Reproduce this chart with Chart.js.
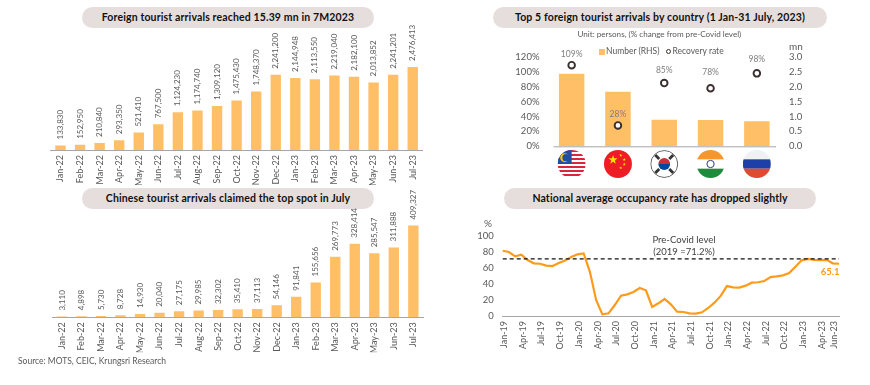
<!DOCTYPE html>
<html lang="en">
<head>
<meta charset="UTF-8">
<title>Thailand tourism</title>
<script src="https://cdn.jsdelivr.net/npm/chart.js"></script>
<style>
  html, body { margin: 0; padding: 0; background: #fff; }
  body { width: 870px; height: 385px; position: relative; overflow: hidden; font-family: Lato, sans-serif; }
  canvas { position: absolute; }
  .pill { position: absolute; height: 21px; line-height: 21px; border-radius: 11px; background: #e6dedc; color: #111;
          font-weight: 700; font-size: 10.5px; letter-spacing: .14px; text-align: center; white-space: nowrap; }
  .note { position: absolute; color: #595959; font-size: 8.5px; white-space: nowrap; line-height: 11px; z-index: 2; }
  .swatch { position: absolute; left: 599px; top: 49px; width: 5.5px; height: 5.5px; background: #ffbf66; z-index: 2; }
  .ring { position: absolute; left: 665.5px; top: 48.5px; width: 3.4px; height: 3.4px; border: 1.7px solid #3b2f2f; border-radius: 50%; background: #fff; z-index: 2; }
</style>
</head>
<body>
<div class="pill" style="left:82px;top:7px;width:292px">Foreign tourist arrivals reached 15.39 mn in 7M2023</div>
<div class="pill" style="left:82px;top:188px;width:292px">Chinese tourist arrivals claimed the top spot in July</div>
<div class="pill" style="left:493px;top:7px;width:334px">Top 5 foreign tourist arrivals by country (1 Jan-31 July, 2023)</div>
<div class="pill" style="left:504px;top:188px;width:312px">National average occupancy rate has dropped slightly</div>
<div class="note" style="left:577.5px;top:29px;font-size:8.1px">Unit: persons, (% change from pre-Covid level)</div>
<div class="swatch"></div>
<div class="note" style="left:606px;top:46px;font-size:8.5px">Number (RHS)</div>
<div class="ring"></div>
<div class="note" style="left:672.5px;top:46px;font-size:8.5px">Recovery rate</div>
<div class="note" style="left:789px;top:41px;font-size:10px">mn</div>
<div class="note" style="left:484px;top:218px;font-size:10px">%</div>
<div class="note" style="left:18px;top:356px">Source: MOTS, CEIC, Krungsri Research</div>
<div class="note" style="left:639px;top:234px;width:90px;text-align:center;font-size:9.5px;line-height:12px;color:#404040">Pre-Covid level<br>(2019 =71.2%)</div>
<canvas id="c1" style="left:0;top:0"></canvas>
<canvas id="c2" style="left:0;top:185px"></canvas>
<canvas id="c3" style="left:440px;top:30px"></canvas>
<canvas id="c4" style="left:440px;top:225px"></canvas>
<script>
var months = ['Jan-22','Feb-22','Mar-22','Apr-22','May-22','Jun-22','Jul-22','Aug-22','Sep-22','Oct-22','Nov-22','Dec-22','Jan-23','Feb-23','Mar-23','Apr-23','May-23','Jun-23','Jul-23'];
var foreignArrivals = [133830,152950,210840,293350,521410,767500,1124230,1174740,1309120,1475430,1748370,2241200,2144948,2113550,2219040,2182100,2013852,2241201,2476413];
var chineseArrivals = [3110,4898,5730,8728,14930,20040,27175,29985,32302,35410,37113,54146,91841,155656,269773,328414,285547,311888,409327];
var countries = ['Malaysia','China','South Korea','India','Russia'];
var countryNumber = [2.44,1.83,0.89,0.88,0.84];
var recoveryRate = [109,28,85,78,98];
var recoveryLabelGap = [11,11,13,16,14];
var occMonths = [];
var occYears = ['19','20','21','22','23'];
var occNames = ['Jan','Feb','Mar','Apr','May','Jun','Jul','Aug','Sep','Oct','Nov','Dec'];
occYears.forEach(function(y, i) {
  occNames.forEach(function(m, j) { if (i < 4 || j < 7) occMonths.push(m + '-' + y); });
});
var occShown = ['Jan-19','Apr-19','Jul-19','Oct-19','Jan-20','Apr-20','Jul-20','Oct-20','Jan-21','Apr-21','Jul-21','Oct-21','Jan-22','Apr-22','Jul-22','Oct-22','Jan-23','Apr-23','Jun-23'];
var occupancy = [81.3,79.7,74.3,76.3,69.7,65.6,65.1,62.7,62.2,66,69,73.4,76.8,78,55,20,2,3.3,13.7,25.3,27,30,34.9,32,11.2,15.8,21.2,14.5,5.4,5,3.3,2.9,4.6,10,16.6,25,37.3,35.7,35.3,37.8,41.5,42,43.6,48.5,49.4,50.6,53.5,61.4,69.3,71,70,69.7,70,65.6,65.1];
var preCovid = occMonths.map(function() { return 71.2; });

var FONT = 'Lato, sans-serif';
var BAR = '#ffbf66';
var TXT = '#595959';

function noOverhang(s) {
  s.paddingLeft = 0; s.paddingRight = 0; s.paddingTop = 0; s.paddingBottom = 0;
}

// rotated value labels above the monthly bars
var rotatedLabels = {
  id: 'rotatedLabels',
  afterDatasetsDraw: function(chart) {
    var ctx = chart.ctx;
    ctx.save();
    ctx.font = '8px ' + FONT;
    ctx.fillStyle = TXT;
    ctx.textAlign = 'left';
    ctx.textBaseline = 'middle';
    chart.getDatasetMeta(0).data.forEach(function(bar, i) {
      ctx.save();
      ctx.translate(bar.x, bar.y - 6);
      ctx.rotate(-Math.PI / 2);
      ctx.fillText(chart.data.datasets[0].data[i].toLocaleString('en-US'), 0, 0);
      ctx.restore();
    });
    ctx.restore();
  }
};

function monthlyChart(id, values, yMax, w, h, pad) {
  var el = document.getElementById(id);
  el.width = w; el.height = h;
  el.style.width = w + 'px'; el.style.height = h + 'px';
  return new Chart(el, {
    type: 'bar',
    data: { labels: months, datasets: [{ data: values, backgroundColor: BAR, barPercentage: 0.53, categoryPercentage: 1 }] },
    options: {
      responsive: false, animation: false,
      layout: { padding: pad },
      plugins: { legend: { display: false }, tooltip: { enabled: false } },
      scales: {
        y: { display: false, min: 0, max: yMax },
        x: {
          grid: { display: false, drawTicks: false },
          border: { color: '#a6a6a6', width: 1 },
          ticks: { color: TXT, font: { size: 9, family: FONT }, minRotation: 90, maxRotation: 90, autoSkip: false, padding: 5 },
          afterFit: function(s) { noOverhang(s); s.height = 35; }
        }
      }
    },
    plugins: [rotatedLabels]
  });
}

monthlyChart('c1', foreignArrivals, 3729000, 430, 185, { left: 50.7, right: 7.5, top: 25, bottom: 0 });
monthlyChart('c2', chineseArrivals, 537000, 430, 175, { left: 52.2, right: 6.9, top: 12, bottom: 7.7 });

function star(ctx, x, y, r) {
  ctx.beginPath();
  for (var i = 0; i < 10; i++) {
    var a = -Math.PI/2 + i * Math.PI/5, d = i % 2 ? r*0.4 : r;
    ctx.lineTo(x + d*Math.cos(a), y + d*Math.sin(a));
  }
  ctx.closePath(); ctx.fill();
}

// flags are only pictures of the category names
function flag(ctx, name, r) {
  var i;
  if (name === 'Malaysia') {
    ctx.fillStyle = '#fff'; ctx.fillRect(-r, -r, 2*r, 2*r);
    ctx.fillStyle = '#d9263a';
    for (i = 0; i < 7; i++) ctx.fillRect(-r, -r + i * 2 * r / 7, 2*r, r / 7);
    ctx.fillStyle = '#1f4fa3'; ctx.fillRect(-r, -r, r, r);
    ctx.fillStyle = '#f7c600';
    ctx.beginPath(); ctx.arc(-r*0.5, -r*0.45, r*0.32, 0, 2*Math.PI); ctx.fill();
    ctx.fillStyle = '#1f4fa3';
    ctx.beginPath(); ctx.arc(-r*0.4, -r*0.45, r*0.26, 0, 2*Math.PI); ctx.fill();
  } else if (name === 'China') {
    ctx.fillStyle = '#ee1c25'; ctx.fillRect(-r, -r, 2*r, 2*r);
    ctx.fillStyle = '#ffde00';
    star(ctx, -r*0.35, -r*0.3, r*0.34);
    [[0.2,-0.62],[0.45,-0.32],[0.45,0.02],[0.2,0.28]].forEach(function(p) { star(ctx, r*p[0], r*p[1], r*0.12); });
  } else if (name === 'South Korea') {
    ctx.fillStyle = '#fff'; ctx.fillRect(-r, -r, 2*r, 2*r);
    ctx.fillStyle = '#cd2e3a';
    ctx.beginPath(); ctx.arc(0, 0, r*0.42, Math.PI, 2*Math.PI); ctx.fill();
    ctx.fillStyle = '#0047a0';
    ctx.beginPath(); ctx.arc(0, 0, r*0.42, 0, Math.PI); ctx.fill();
    ctx.fillStyle = '#333';
    [[-1,-1],[1,-1],[-1,1],[1,1]].forEach(function(p) {
      ctx.save(); ctx.translate(p[0]*r*0.5, p[1]*r*0.5); ctx.rotate(p[0]*p[1]*Math.PI/4);
      ctx.fillRect(-r*0.2, -r*0.1, r*0.4, r*0.2); ctx.restore();
    });
    ctx.strokeStyle = '#333'; ctx.lineWidth = 0.8;
    ctx.beginPath(); ctx.arc(0, 0, r - 0.5, 0, 2*Math.PI); ctx.stroke();
  } else if (name === 'India') {
    ctx.fillStyle = '#fff'; ctx.fillRect(-r, -r, 2*r, 2*r);
    ctx.fillStyle = '#f7962a'; ctx.fillRect(-r, -r, 2*r, 2*r/3);
    ctx.fillStyle = '#1f8a3b'; ctx.fillRect(-r, r/3, 2*r, 2*r/3);
    ctx.strokeStyle = '#2a3c8f'; ctx.lineWidth = 1;
    ctx.beginPath(); ctx.arc(0, 0, r*0.26, 0, 2*Math.PI); ctx.stroke();
  } else {
    ctx.fillStyle = '#f1f1f1'; ctx.fillRect(-r, -r, 2*r, 2*r);
    ctx.fillStyle = '#1c3fa8'; ctx.fillRect(-r, -r/3, 2*r, 2*r/3);
    ctx.fillStyle = '#e04a35'; ctx.fillRect(-r, r/3, 2*r, 2*r/3);
  }
}

// flags, baseline and marker labels for the country chart
var countryExtras = {
  id: 'countryExtras',
  afterDraw: function(chart) {
    var ctx = chart.ctx, xs = chart.scales.x, ys = chart.scales.y;
    ctx.save();
    ctx.strokeStyle = '#a6a6a6'; ctx.lineWidth = 1;
    ctx.beginPath(); ctx.moveTo(xs.left + 5, ys.bottom + 0.5); ctx.lineTo(xs.right - 4, ys.bottom + 0.5); ctx.stroke();
    countries.forEach(function(name, i) {
      ctx.save();
      ctx.translate(xs.getPixelForValue(i), ys.bottom + 17.7);
      ctx.beginPath(); ctx.arc(0, 0, 14, 0, 2*Math.PI); ctx.clip();
      flag(ctx, name, 14);
      ctx.restore();
    });
    ctx.font = '8.5px ' + FONT;
    ctx.fillStyle = '#7f7f7f';
    ctx.textAlign = 'center';
    ctx.textBaseline = 'middle';
    chart.getDatasetMeta(1).data.forEach(function(pt, i) {
      ctx.fillText(recoveryRate[i] + '%', pt.x, pt.y - recoveryLabelGap[i]);
    });
    ctx.restore();
  }
};
var el3 = document.getElementById('c3');
el3.width = 430; el3.height = 155;
el3.style.width = '430px'; el3.style.height = '155px';
new Chart(el3, {
  type: 'bar',
  data: {
    labels: countries,
    datasets: [
      { label: 'Number (RHS)', data: countryNumber, yAxisID: 'y1', backgroundColor: BAR, barPercentage: 0.55, categoryPercentage: 1, order: 2 },
      { label: 'Recovery rate', type: 'line', data: recoveryRate, yAxisID: 'y', showLine: false, pointStyle: 'circle', pointRadius: 3.3,
        pointBackgroundColor: '#fff', pointBorderColor: '#3b2f2f', pointBorderWidth: 1.9, order: 1 }
    ]
  },
  options: {
    responsive: false, animation: false,
    layout: { padding: { left: 0, right: 0, top: 27, bottom: 0 } },
    plugins: { legend: { display: false }, tooltip: { enabled: false } },
    scales: {
      x: { grid: { display: false, drawTicks: false }, border: { display: false }, ticks: { display: false },
           afterFit: function(s) { noOverhang(s); s.height = 38.7; } },
      y: { position: 'left', min: 0, max: 120, grid: { display: false, drawTicks: false }, border: { display: false },
           ticks: { stepSize: 20, padding: 9, color: TXT, font: { size: 9.5, family: FONT }, callback: function(v) { return v + '%'; } },
           afterFit: function(s) { noOverhang(s); s.width = 108.5; } },
      y1: { position: 'right', min: 0, max: 3, grid: { display: false, drawTicks: false }, border: { display: false },
            ticks: { stepSize: 0.5, padding: 9, color: TXT, font: { size: 9.5, family: FONT }, callback: function(v) { return v.toFixed(1); } },
            afterFit: function(s) { noOverhang(s); s.width = 90; } }
    }
  },
  plugins: [countryExtras]
});

// last value label on the occupancy line
var lastLabel = {
  id: 'lastLabel',
  afterDatasetsDraw: function(chart) {
    var pts = chart.getDatasetMeta(0).data, p = pts[pts.length - 1], ctx = chart.ctx;
    ctx.save();
    ctx.font = '700 9.5px ' + FONT;
    ctx.fillStyle = '#ff9a1a';
    ctx.textAlign = 'right';
    ctx.textBaseline = 'middle';
    ctx.fillText(occupancy[occupancy.length - 1].toFixed(1), p.x + 0.5, p.y + 8.5);
    ctx.restore();
  }
};
var el4 = document.getElementById('c4');
el4.width = 430; el4.height = 160;
el4.style.width = '430px'; el4.style.height = '160px';
new Chart(el4, {
  type: 'line',
  data: {
    labels: occMonths,
    datasets: [
      { data: occupancy, borderColor: '#ff9a1a', borderWidth: 2.2, pointRadius: 0, tension: 0, order: 2 },
      { data: preCovid, borderColor: '#111', borderWidth: 1.1, borderDash: [4, 3], pointRadius: 0, order: 1 }
    ]
  },
  options: {
    responsive: false, animation: false,
    layout: { padding: { left: 0, right: 31, top: 10.7, bottom: 0 } },
    plugins: { legend: { display: false }, tooltip: { enabled: false } },
    scales: {
      y: { min: 0, max: 100, grid: { display: false, drawTicks: false }, border: { display: false },
           ticks: { stepSize: 20, padding: 9, color: TXT, font: { size: 9.5, family: FONT } },
           afterFit: function(s) { noOverhang(s); s.width = 62.7; } },
      x: { grid: { display: false, drawTicks: false }, border: { color: '#a6a6a6', width: 1 },
           ticks: { autoSkip: false, minRotation: 90, maxRotation: 90, padding: 5, labelOffset: 1.5, color: TXT, font: { size: 9, family: FONT },
                    callback: function(v, i) { var l = occMonths[i]; return occShown.indexOf(l) >= 0 ? l : ''; } },
           afterFit: function(s) { noOverhang(s); s.height = 69; } }
    }
  },
  plugins: [lastLabel]
});
</script>
</body>
</html>
